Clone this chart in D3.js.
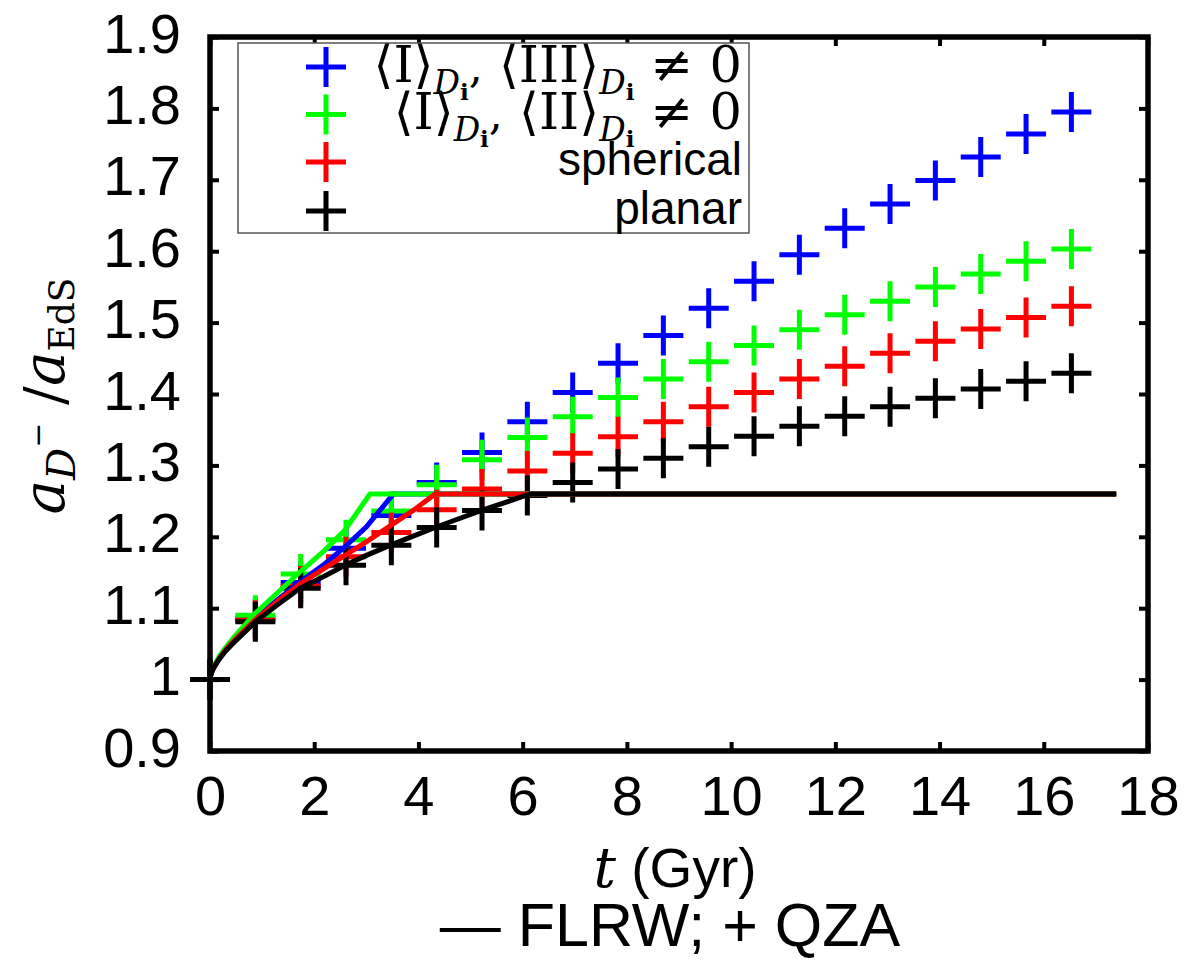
<!DOCTYPE html>
<html><head><meta charset="utf-8">
<script src="https://cdn.jsdelivr.net/npm/d3@7"></script>
<style>body{margin:0;background:#fff}</style>
</head><body>
<svg id="c" width="1187" height="961" xmlns="http://www.w3.org/2000/svg"></svg>
<script>
// ---------- data ----------
const tQZA = [0,0.87,1.74,2.61,3.48,4.35,5.22,6.09,6.96,7.83,8.70,9.57,10.44,11.31,12.18,13.05,13.92,14.79,15.66,16.53];
const qzaBlue  = [1.0,1.086,1.136,1.184,1.230,1.276,1.318,1.361,1.402,1.443,1.482,1.520,1.558,1.595,1.632,1.666,1.699,1.732,1.764,1.795];
const qzaGreen = [1.0,1.090,1.148,1.196,1.236,1.273,1.308,1.339,1.368,1.395,1.421,1.445,1.468,1.490,1.511,1.530,1.550,1.568,1.586,1.603];
const qzaRed   = [1.0,1.083,1.131,1.172,1.206,1.238,1.267,1.292,1.317,1.340,1.361,1.382,1.402,1.421,1.439,1.457,1.474,1.491,1.507,1.523];
const qzaBlack = [1.0,1.081,1.128,1.160,1.188,1.213,1.237,1.258,1.276,1.295,1.310,1.326,1.341,1.355,1.369,1.382,1.394,1.407,1.418,1.429];

const tFlrwBlue  = [0,0.01,0.03,0.06,0.1,0.18,0.3,0.5,0.7,0.87,1.3,1.73,2.2,2.59,3.0,3.52,17.39];
const flrwBlue   = [1.0,1.005,1.010,1.015,1.021,1.031,1.043,1.060,1.074,1.087,1.112,1.137,1.162,1.186,1.214,1.26,1.26];
const tFlrwGreen = [0,0.01,0.03,0.06,0.1,0.18,0.3,0.5,0.7,0.87,1.3,1.73,2.2,2.59,3.07,17.39];
const flrwGreen  = [1.0,1.005,1.011,1.016,1.022,1.033,1.045,1.063,1.079,1.093,1.122,1.151,1.181,1.2095,1.26,1.26];
const tFlrwRed   = [0,0.01,0.03,0.06,0.1,0.18,0.3,0.5,0.7,0.87,1.3,1.73,2.2,2.59,3.0,3.45,3.9,4.32,17.39];
const flrwRed    = [1.0,1.005,1.010,1.015,1.020,1.030,1.042,1.058,1.072,1.084,1.110,1.134,1.156,1.174,1.193,1.215,1.237,1.26,1.26];
const tFlrwBlack = [0,0.01,0.03,0.06,0.1,0.18,0.3,0.5,0.7,0.87,1.3,1.73,2.2,2.59,3.0,3.45,3.9,4.32,4.8,5.21,5.7,6.14,17.39];
const flrwBlack  = [1.0,1.005,1.010,1.015,1.020,1.029,1.040,1.055,1.069,1.081,1.105,1.128,1.145,1.160,1.174,1.188,1.201,1.213,1.226,1.237,1.249,1.26,1.26];

const seriesColors = ["#0000ff","#00ff00","#ff0000","#000000"];
const legendLabels = ["III","II","spherical","planar"];

const xTickValues = [0,2,4,6,8,10,12,14,16,18];
const xTickLabels = ["0","2","4","6","8","10","12","14","16","18"];
const yTickValues = [0.9,1.0,1.1,1.2,1.3,1.4,1.5,1.6,1.7,1.8,1.9];
const yTickLabels = ["0.9","1","1.1","1.2","1.3","1.4","1.5","1.6","1.7","1.8","1.9"];

// ---------- scales ----------
const svg = d3.select("#c");
const x = d3.scaleLinear().domain([0,18]).range([210,1148]);
const y = d3.scaleLinear().domain([0.9,1.9]).range([751,37]);

const sans = "'Liberation Sans', Arial, sans-serif";
const serif = "'DejaVu Serif', 'Liberation Serif', serif";

svg.append("rect").attr("width",1187).attr("height",961).attr("fill","#fff");

// ---------- axes ----------
function styleAxis(g, withText){
  g.select(".domain").remove();
  g.selectAll(".tick line").attr("stroke","#000").attr("stroke-width",4);
  if(!withText) g.selectAll(".tick text").remove();
  else g.selectAll(".tick text").attr("font-family",sans).attr("font-size",56).attr("fill","#000");
}
svg.append("g").attr("transform","translate(0,751)")
  .call(d3.axisBottom(x).tickValues(xTickValues).tickSize(-9).tickPadding(24)
        .tickFormat((d,i)=>xTickLabels[i]))
  .call(g=>styleAxis(g,true));
svg.append("g").attr("transform","translate(0,37)")
  .call(d3.axisTop(x).tickValues(xTickValues).tickSize(-9))
  .call(g=>styleAxis(g,false));
svg.append("g").attr("transform","translate(210,0)")
  .call(d3.axisLeft(y).tickValues(yTickValues).tickSize(-9).tickPadding(29)
        .tickFormat((d,i)=>yTickLabels[i]))
  .call(g=>styleAxis(g,true))
  .call(g=>g.selectAll(".tick text").attr("dy","0.27em"));
svg.append("g").attr("transform","translate(1148,0)")
  .call(d3.axisRight(y).tickValues(yTickValues).tickSize(-9))
  .call(g=>styleAxis(g,false));

// ---------- QZA crosses ----------
const qza = [qzaBlue,qzaGreen,qzaRed,qzaBlack];
const half = 20;
qza.forEach((vals,si)=>{
  const g = svg.append("g").attr("stroke",seriesColors[si]).attr("stroke-width",5);
  const pts = tQZA.map((t,i)=>[x(t),y(vals[i])]);
  g.selectAll("path").data(pts).join("path")
    .attr("d",p=>`M${p[0]-half},${p[1]}H${p[0]+half}M${p[0]},${p[1]-half}V${p[1]+half}`);
});

// ---------- FLRW lines ----------
const flrw = [[tFlrwBlue,flrwBlue],[tFlrwGreen,flrwGreen],[tFlrwRed,flrwRed],[tFlrwBlack,flrwBlack]];
const line = d3.line().x(d=>x(d[0])).y(d=>y(d[1]));
flrw.forEach((s,si)=>{
  svg.append("path").datum(s[0].map((t,i)=>[t,s[1][i]]))
    .attr("d",line).attr("fill","none").attr("stroke",seriesColors[si])
    .attr("stroke-width",5).attr("stroke-linejoin","round");
});

// ---------- frame ----------
svg.append("rect").attr("x",210).attr("y",37).attr("width",938).attr("height",714)
  .attr("fill","none").attr("stroke","#000").attr("stroke-width",5.5);

// ---------- legend ----------
const lg = svg.append("g");
lg.append("rect").attr("x",238).attr("y",43).attr("width",511).attr("height",190)
  .attr("fill","#fff").attr("stroke","#555").attr("stroke-width",1.5);
const legY = [67,114.5,162,211];
legY.forEach((ly,i)=>{
  lg.append("path").attr("d",`M${326-half},${ly}H${326+half}M326,${ly-half}V${ly+half}`)
    .attr("stroke",seriesColors[i]).attr("stroke-width",5);
});
function rich(parent, xEnd, yBase, parts){
  const t = parent.append("text").attr("x",xEnd).attr("y",yBase).attr("text-anchor","end").attr("fill","#000");
  parts.forEach(p=>{
    const ts = t.append("tspan").text(p.t)
      .attr("font-family",p.f||serif).attr("font-size",p.s||50);
    if(p.dy) ts.attr("dy",p.dy);
    if(p.it) ts.attr("font-style","italic");
    if(p.b) ts.attr("font-weight","bold");
  });
  return t;
}
function mathRow(yb, inner){
  rich(lg, 742, yb, [
    {t:"\u27E8I\u27E9", s:51},
    {t:"D", s:33, it:1, dy:12},
    {t:"i", s:23, b:1, dy:6},
    {t:",", s:44, dy:-18},
    {t:"  \u27E8"+inner+"\u27E9", s:51},
    {t:"D", s:33, it:1, dy:12},
    {t:"i", s:23, b:1, dy:6},
    {t:" \u2260 0", s:51, dy:-18}
  ]);
}
mathRow(82, legendLabels[0]);
mathRow(129, legendLabels[1]);
lg.append("text").attr("x",742).attr("y",175).attr("text-anchor","end")
  .attr("font-family",sans).attr("font-size",46).text(legendLabels[2]);
lg.append("text").attr("x",742).attr("y",224).attr("text-anchor","end")
  .attr("font-family",sans).attr("font-size",46).text(legendLabels[3]);

// ---------- axis titles ----------
const xt = svg.append("text").attr("x",675).attr("y",887).attr("text-anchor","middle").attr("fill","#000");
xt.append("tspan").text("t").attr("font-family",serif).attr("font-style","italic").attr("font-size",56);
xt.append("tspan").text(" (Gyr)").attr("font-family",sans).attr("font-size",55);
svg.append("text").attr("x",670).attr("y",946).attr("text-anchor","middle")
  .attr("font-family",sans).attr("font-size",61).text("\u2014 FLRW; + QZA");

const yt = svg.append("text").attr("transform","translate(64,396) rotate(-90)")
  .attr("text-anchor","middle").attr("fill","#000").attr("font-family",serif);
yt.append("tspan").text("a").attr("font-style","italic").attr("font-size",58);
yt.append("tspan").text("D").attr("font-style","italic").attr("font-size",40).attr("dy",11);
yt.append("tspan").text("\u2212").attr("font-size",30).attr("dy",-27);
yt.append("tspan").text(" /").attr("font-size",56).attr("dy",16);
yt.append("tspan").text("a").attr("font-style","italic").attr("font-size",58);
yt.append("tspan").text("EdS").attr("font-size",36).attr("dy",10);
</script>
</body></html>
